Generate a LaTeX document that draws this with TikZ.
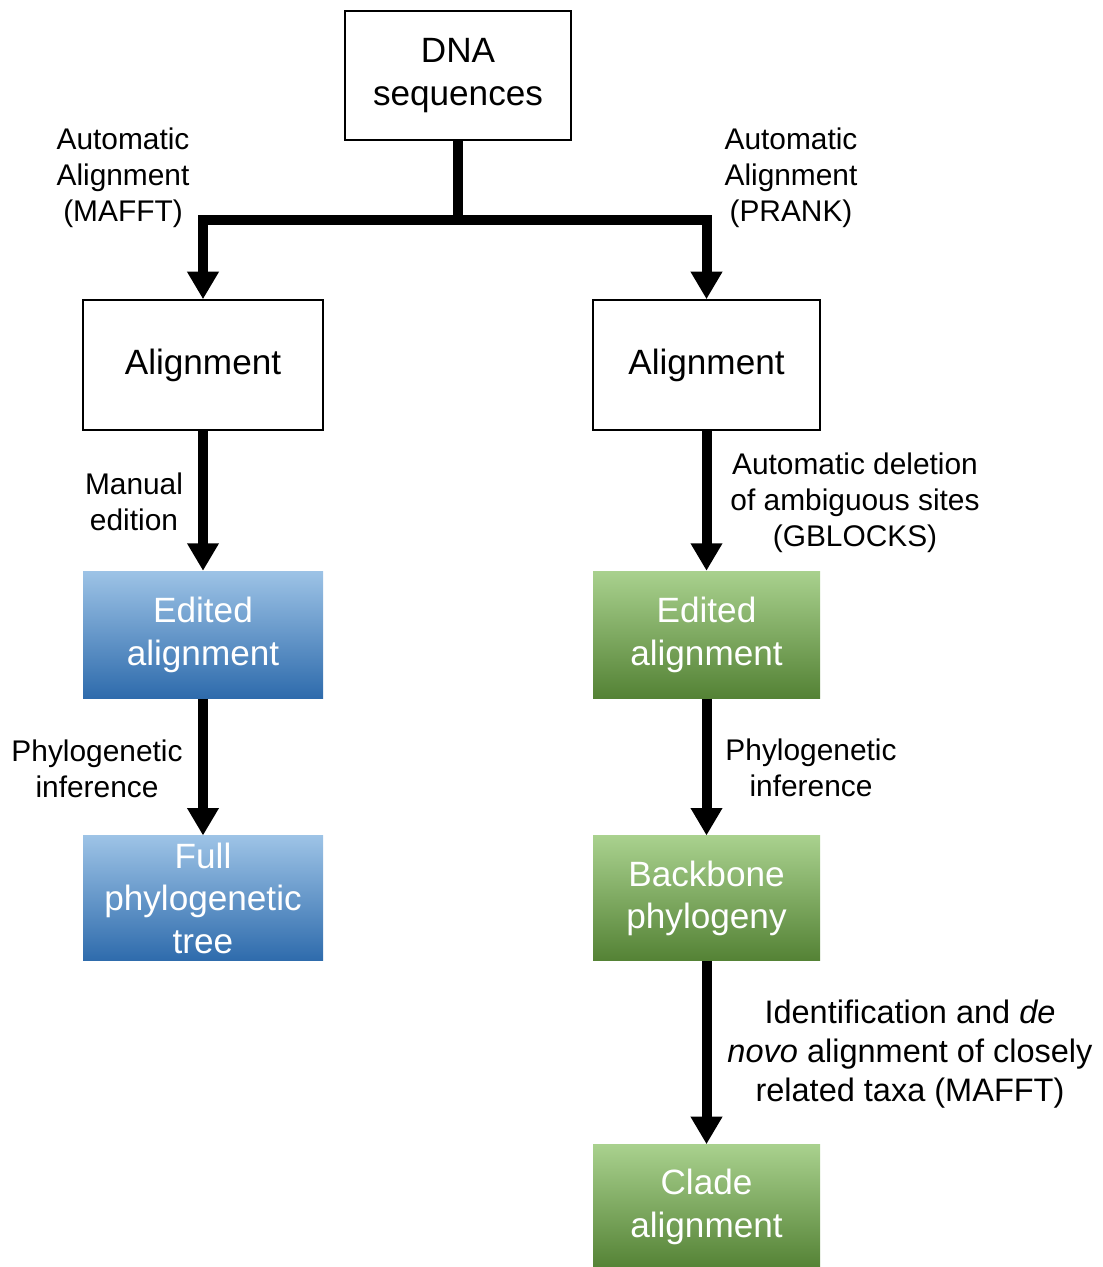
\documentclass[tikz,border=0pt]{standalone}
\usepackage{fontspec}
\setmainfont{Liberation Sans}
\usepackage{tikz}
\usetikzlibrary{arrows.meta,positioning}

\definecolor{blueTop}{RGB}{157,195,230}
\definecolor{blueBot}{RGB}{46,107,172}
\definecolor{greenTop}{RGB}{169,209,142}
\definecolor{greenBot}{RGB}{84,130,53}

\tikzset{
    plainbox/.style={draw=black, line width=0.9pt, align=center, inner sep=0pt,
        font=\fontsize{20}{24.4}\selectfont},
    bluebox/.style={align=center, inner sep=0pt, text=white,
        top color=blueTop, bottom color=blueBot,
        minimum width=4.8cm, font=\fontsize{20}{24.4}\selectfont},
    greenbox/.style={align=center, inner sep=0pt, text=white,
        top color=greenTop, bottom color=greenBot,
        minimum width=4.54cm, font=\fontsize{20}{24.4}\selectfont},
    flow/.style={line width=0.2cm, line join=miter,
        -{Triangle[width=0.6cm,length=0.55cm]}},
    lbl/.style={align=center, font=\fontsize{17}{20.5}\selectfont},
}

\begin{document}
\begin{tikzpicture}
    \useasboundingbox (0,0) rectangle (22.06,-25.34);

    \node[plainbox, minimum width=4.52cm, minimum height=2.58cm] (dna) at (9.16,-1.51) {DNA\\sequences};
    \node[plainbox, minimum width=4.8cm, minimum height=2.6cm] (alignL) at (4.06,-7.30) {Alignment};
    \node[plainbox, minimum width=4.54cm, minimum height=2.6cm] (alignR) at (14.13,-7.30) {Alignment};

    \node[bluebox, minimum height=2.54cm, below=2.8cm of alignL] (editL) {Edited\\alignment};
    \node[bluebox, minimum height=2.5cm, below=2.74cm of editL] (fullTree) {Full\\phylogenetic\\tree};

    \node[greenbox, minimum height=2.54cm, below=2.8cm of alignR] (editR) {Edited\\alignment};
    \node[greenbox, minimum height=2.5cm, below=2.74cm of editR] (backbone) {Backbone\\phylogeny};
    \node[greenbox, minimum height=2.48cm, below=3.66cm of backbone] (clade) {Clade\\alignment};

    \coordinate (split) at (9.16,-4.4);

    \draw[flow] (dna.south) -- (split) -| (alignL.north);
    \draw[flow] (split) -| (alignR.north);
    \draw[flow] (alignL) -- (editL);
    \draw[flow] (editL) -- (fullTree);
    \draw[flow] (alignR) -- (editR);
    \draw[flow] (editR) -- (backbone);
    \draw[flow] (backbone) -- (clade);

    \node[lbl] (lblMafft) at (2.46,-3.56) {Automatic\\Alignment\\(MAFFT)};
    \node[lbl] (lblPrank) at (15.82,-3.56) {Automatic\\Alignment\\(PRANK)};
    \node[lbl] (lblManual) at (2.68,-10.03) {Manual\\edition};
    \node[lbl] (lblGblocks) at (17.1,-10.05) {Automatic deletion\\of ambiguous sites\\(GBLOCKS)};
    \node[lbl] (lblPhyloL) at (1.94,-15.37) {Phylogenetic\\inference};
    \node[lbl] (lblPhyloR) at (16.22,-15.35) {Phylogenetic\\inference};
    \node[lbl, font=\fontsize{18.5}{22.4}\selectfont] (lblIdent) at (18.2,-21.08)
        {Identification and \textit{de}\\\textit{novo} alignment of closely\\related taxa (MAFFT)};
\end{tikzpicture}
\end{document}
